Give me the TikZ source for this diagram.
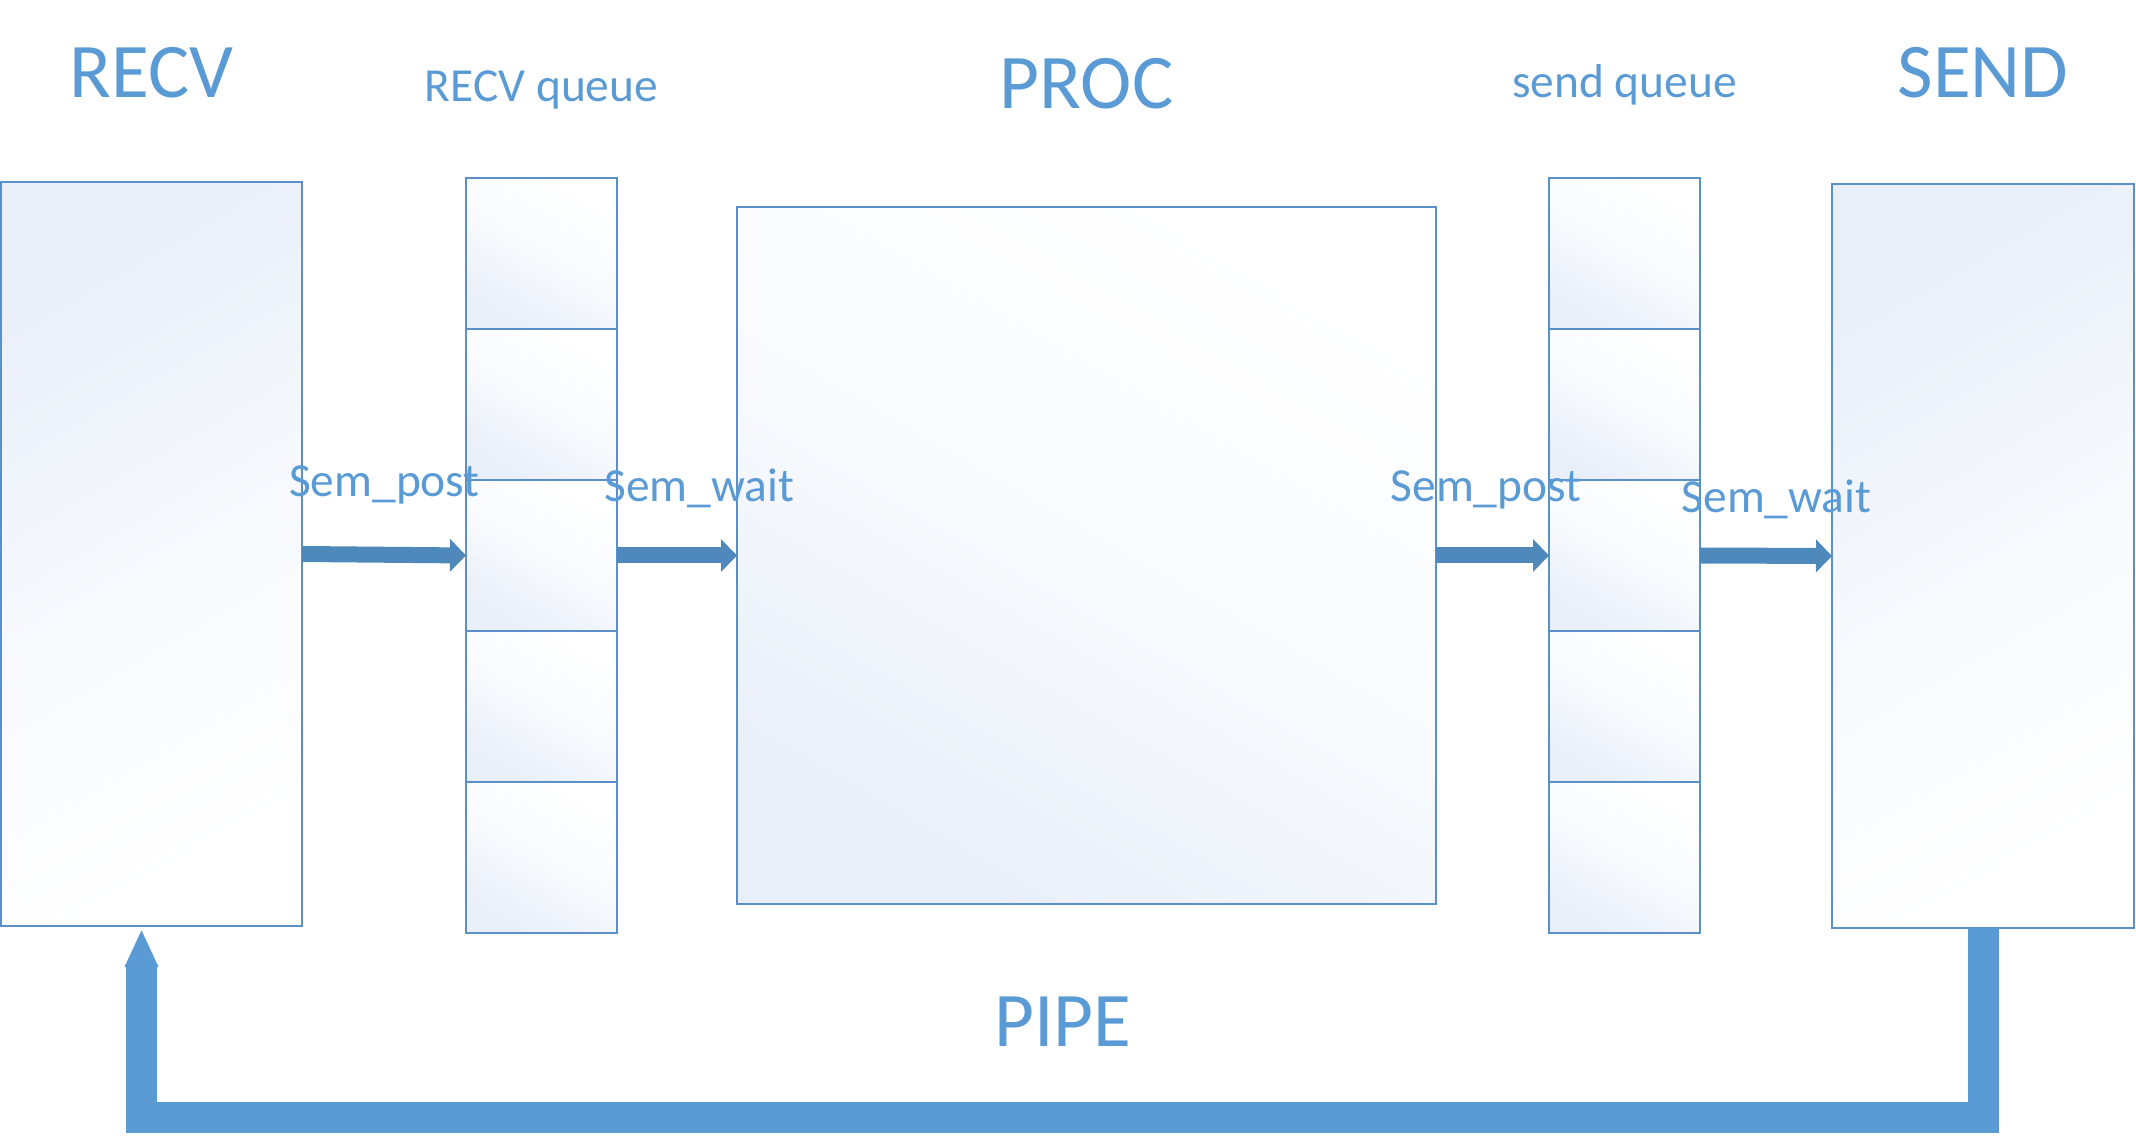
\documentclass[tikz,border=0pt]{standalone}
\usepackage{fontspec}
\setmainfont{Carlito}
\usepackage{tikz}
\usetikzlibrary{calc,arrows.meta}

\definecolor{textblue}{HTML}{5B9BD5}
\definecolor{edgeblue}{HTML}{5B8FC8}
\definecolor{arrowblue}{HTML}{4F88BA}
\definecolor{pipeblue}{HTML}{5B9BD5}
\definecolor{glassblue}{HTML}{E9EFF9}

\begin{document}
\begin{tikzpicture}[
  glassdown/.style={draw=edgeblue, line width=0.5pt, rectangle, inner sep=0pt, outer sep=0pt, top color=white, bottom color=glassblue, middle color=white!70!glassblue, shading angle=-30},
  glassup/.style={draw=edgeblue, line width=0.5pt, rectangle, inner sep=0pt, outer sep=0pt, top color=glassblue, bottom color=white, middle color=white!60!glassblue, shading angle=30},
  bigtitle/.style={text=textblue, font=\fontsize{22}{26}\selectfont, anchor=base, inner sep=0pt},
  smalltitle/.style={text=textblue, font=\fontsize{13.5}{16}\selectfont, anchor=base, inner sep=0pt},
  semarrow/.style={draw=arrowblue, line width=0.16cm, -{Triangle[length=1.6mm, width=3.2mm]}},
  pipe/.style={draw=pipeblue, line width=0.31cm, line join=miter, -{Triangle[length=3.8mm, width=3.1mm]}}
]
\useasboundingbox (0,0) rectangle (21.36,-11.41);

% Receiver and sender blocks
\node[glassup, minimum width=3.01cm, minimum height=7.44cm] (recv) at (1.515,-5.54) {};
\node[glassup, minimum width=3.02cm, minimum height=7.44cm] (send) at (19.83,-5.56) {};

% Processing block
\node[glassdown, minimum width=6.99cm, minimum height=6.97cm] (proc) at (10.865,-5.555) {};

% Queues, five slots each
\foreach \i in {1,...,5} {
  \node[glassdown, minimum width=1.51cm, minimum height=1.51cm] (rq\i) at (5.415,{-2.535-(\i-1)*1.51}) {};
  \node[glassdown, minimum width=1.51cm, minimum height=1.51cm] (sq\i) at (16.245,{-2.535-(\i-1)*1.51}) {};
}

% Titles
\node[bigtitle] at (recv.north |- 0,-0.98) {RECV};
\node[smalltitle] at (rq1.north |- 0,-1.02) {RECV queue};
\node[bigtitle] at (proc.north |- 0,-1.09) {PROC};
\node[smalltitle] at (sq1.north |- 0,-0.98) {send queue};
\node[bigtitle] at (send.north |- 0,-0.98) {SEND};

% Semaphore arrows
\draw[semarrow] (recv.east) -- (rq3.west);
\draw[semarrow] (rq3.east) -- (proc.west);
\draw[semarrow] (proc.east) -- (sq3.west);
\draw[semarrow] (sq3.east) -- (send.west);
\node[smalltitle] at (3.845,-4.97) {Sem\_post};
\node[smalltitle] at (6.995,-5.02) {Sem\_wait};
\node[smalltitle] at (14.86,-5.02) {Sem\_post};
\node[smalltitle] at (17.765,-5.13) {Sem\_wait};

% Pipe back to the receiver
\coordinate (pipeend) at (1.415,-9.29);
\coordinate (pipelow) at (1.415,-11.175);
\draw[pipe] (send.south) -- (send.south |- pipelow) -- (pipelow) -- (pipeend);
\node[bigtitle] at (10.63,-10.46) {PIPE};

\end{tikzpicture}
\end{document}
